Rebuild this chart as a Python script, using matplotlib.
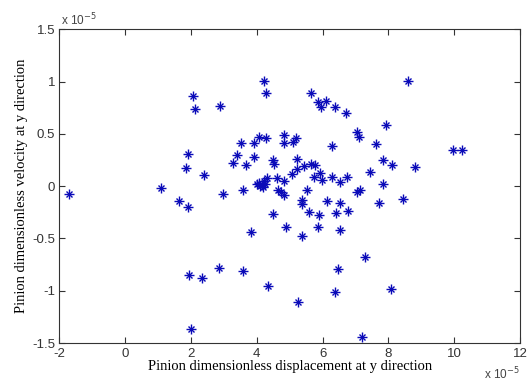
import matplotlib
matplotlib.use("Agg")
import matplotlib.pyplot as plt

# pinion displacement / velocity samples (units of 1e-5)
disp_y = [
    -1.70, 1.10, 1.63, 1.91, 1.90, 1.84, 2.39, 2.05, 2.11, 2.89,
    4.23, 4.27, 2.97, 3.59, 3.27, 3.40, 3.51, 3.67, 3.91, 3.91,
    4.07, 4.27, 3.83, 1.94, 2.34, 2.85, 3.59, 1.99, 4.35, 8.60,
    5.66, 5.87, 6.09, 5.96, 6.38, 6.71, 7.94, 7.05, 7.11, 7.63,
    6.28, 9.95, 10.23, 4.82, 4.82, 5.19, 5.11, 4.48, 4.52, 5.21,
    5.43, 5.23, 5.06, 5.66, 5.76, 5.93, 5.73, 5.97, 6.27, 6.53,
    6.73, 7.44, 7.84, 8.11, 8.80, 7.84, 4.60, 4.82, 4.65, 4.72,
    4.82, 5.54, 7.05, 7.13, 8.43, 5.36, 5.36, 6.12, 6.52, 7.72,
    4.48, 5.59, 5.90, 6.42, 6.76, 4.88, 5.86, 6.52, 5.37, 7.29,
    6.46, 6.37, 8.07, 5.25, 7.21, 4.00, 4.08, 4.15, 4.22, 4.30,
    4.18, 4.10, 4.25,
]
vel_y = [
    -0.07, -0.02, -0.14, -0.20, 0.31, 0.17, 0.11, 0.86, 0.74, 0.77,
    1.01, 0.89, -0.07, -0.04, 0.22, 0.30, 0.41, 0.20, 0.41, 0.28,
    0.47, 0.46, -0.44, -0.85, -0.88, -0.78, -0.81, -1.37, -0.95, 1.01,
    0.89, 0.81, 0.82, 0.76, 0.76, 0.70, 0.59, 0.52, 0.47, 0.40,
    0.38, 0.35, 0.35, 0.49, 0.41, 0.46, 0.42, 0.25, 0.21, 0.26,
    0.19, 0.16, 0.12, 0.21, 0.20, 0.13, 0.09, 0.06, 0.09, 0.04,
    0.09, 0.14, 0.25, 0.20, 0.18, 0.02, 0.08, 0.05, -0.04, -0.06,
    -0.08, -0.04, -0.06, -0.04, -0.12, -0.13, -0.17, -0.14, -0.16, -0.16,
    -0.27, -0.25, -0.28, -0.26, -0.24, -0.39, -0.39, -0.42, -0.48, -0.68,
    -0.79, -1.01, -0.98, -1.11, -1.44, 0.02, 0.03, 0.01, 0.05, 0.08,
    -0.01, 0.00, 0.02,
]

xticks = [-2, 0, 2, 4, 6, 8, 10, 12]
yticks = [-1.5, -1, -0.5, 0, 0.5, 1, 1.5]
xtick_labels = ["-2", "0", "2", "4", "6", "8", "10", "12"]
ytick_labels = ["-1.5", "-1", "-0.5", "0", "0.5", "1", "1.5"]

fig = plt.figure(figsize=(5.27, 3.82), dpi=100)
ax = fig.add_axes([0.1125, 0.102, 0.8745, 0.821])

star_color = "#0a0ab8"
ax.plot(disp_y, vel_y, linestyle="none", marker="+", markersize=7,
        markeredgewidth=1.0, color=star_color)
ax.plot(disp_y, vel_y, linestyle="none", marker="x", markersize=4.5,
        markeredgewidth=1.0, color=star_color)

ax.set_xlim(-2, 12)
ax.set_ylim(-1.5, 1.5)
ax.set_xticks(xticks)
ax.set_xticklabels(xtick_labels)
ax.set_yticks(yticks)
ax.set_yticklabels(ytick_labels)

for lbl in ax.get_xticklabels() + ax.get_yticklabels():
    lbl.set_fontfamily("Liberation Sans")
    lbl.set_fontsize(9.5)
    lbl.set_color("#444444")
ax.tick_params(direction="in", length=4, width=0.8, top=True, right=True,
               colors="#333333")
ax.tick_params(axis="x", pad=3.5)
ax.tick_params(axis="y", pad=3)
for sp in ax.spines.values():
    sp.set_linewidth(0.8)
    sp.set_color("#333333")

ax.set_xlabel("Pinion dimensionless displacement at y direction",
              family="Liberation Serif", fontsize=10.5, labelpad=0)
ax.set_ylabel("Pinion dimensionless velocity at y direction",
              family="Liberation Serif", fontsize=10.5, labelpad=3)

# axis multipliers
mult_font = {"family": "Liberation Sans", "size": 8.5}
fig.text(0.115, 0.935, r"x 10$^{-5}$", fontdict=mult_font, color="#444444")
fig.text(0.918, 0.008, r"x 10$^{-5}$", fontdict=mult_font, color="#444444")

fig.savefig("out.png", dpi=100)
